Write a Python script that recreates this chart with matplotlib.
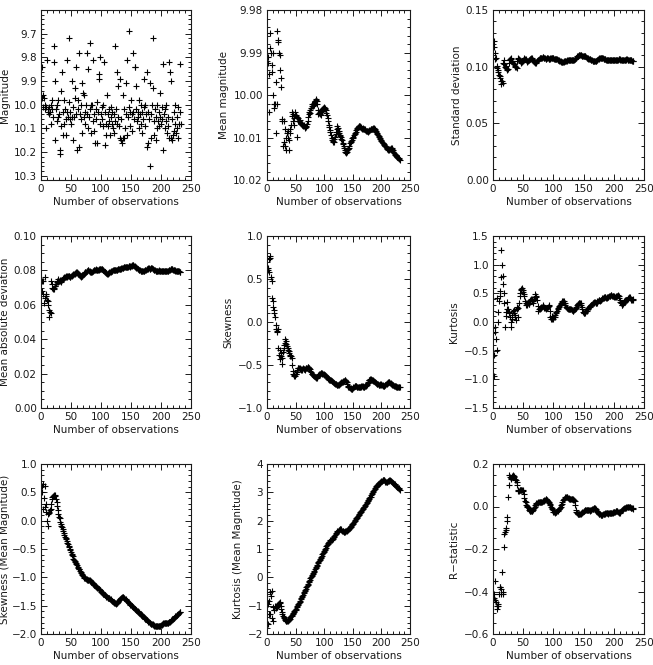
import matplotlib
matplotlib.use("Agg")
import matplotlib.pyplot as plt
import numpy as np
from matplotlib.ticker import MultipleLocator, AutoMinorLocator, FixedLocator

# raw magnitudes, one per observation (x = 1..233)
magnitude = [
    9.84, 9.97, 9.96, 10.01, 9.97, 10.02, 10.00, 10.01, 10.10, 9.81,
    10.03, 10.02, 10.04, 10.01, 10.03, 10.08, 10.00, 10.02, 9.98, 10.05,
    9.75, 9.82, 9.90, 10.15, 10.02, 10.00, 10.07, 10.05, 9.98, 10.04,
    10.21, 10.19, 10.09, 9.94, 9.86, 10.13, 10.03, 10.08, 9.98, 10.02,
    10.06, 10.13, 9.81, 10.03, 10.05, 9.99, 9.72, 10.06, 10.03, 10.08,
    10.05, 9.90, 10.15, 10.01, 10.05, 9.97, 9.93, 10.04, 9.84, 10.19,
    10.02, 9.98, 9.78, 10.18, 10.04, 10.00, 10.06, 9.91, 10.12, 9.95,
    10.05, 9.96, 10.03, 10.08, 10.00, 10.04, 9.78, 9.85, 10.10, 10.05,
    10.02, 9.74, 10.00, 10.12, 10.00, 10.07, 9.81, 10.04, 10.11, 10.16,
    10.02, 10.06, 9.99, 10.16, 10.03, 9.87, 9.89, 10.08, 9.80, 10.04,
    10.01, 10.06, 10.00, 10.09, 9.82, 10.03, 10.17, 10.13, 10.08, 9.96,
    10.04, 10.09, 10.02, 10.07, 10.13, 10.05, 10.01, 10.08, 10.03, 10.10,
    10.04, 10.12, 10.07, 9.75, 10.02, 10.08, 9.86, 10.05, 9.92, 10.09,
    10.14, 9.89, 10.06, 10.15, 10.16, 10.14, 9.96, 10.02, 10.14, 10.10,
    10.04, 9.91, 10.13, 9.81, 10.05, 9.69, 10.01, 10.09, 10.03, 9.98,
    10.04, 10.11, 9.78, 10.03, 10.06, 9.84, 9.84, 10.02, 9.92, 10.07,
    10.03, 10.05, 10.10, 9.98, 10.04, 10.08, 10.00, 10.12, 10.03, 10.06,
    9.89, 10.01, 10.09, 10.00, 10.04, 10.18, 9.86, 10.03, 10.16, 10.06,
    10.26, 9.91, 10.04, 10.14, 10.00, 9.72, 9.93, 10.13, 10.07, 10.02,
    10.15, 10.05, 10.00, 10.10, 10.07, 10.03, 10.09, 10.05, 9.95, 10.08,
    10.01, 10.06, 10.19, 9.83, 10.04, 10.10, 10.02, 10.07, 10.00, 10.12,
    10.05, 10.09, 10.14, 9.82, 9.86, 9.90, 10.14, 10.15, 10.06, 10.13,
    10.03, 10.11, 10.08, 10.00, 10.12, 10.05, 10.10, 10.01, 10.14, 10.08,
    10.03, 9.83, 10.08,
]

# running statistics, x = 1..232
mean_mag = [
    9.9910, 9.9925, 9.9950, 10.0040, 9.9855, 9.9890, 9.9900, 9.9930, 9.9945, 9.9900,
    10.0000, 10.0020, 10.0030, 10.0020, 9.9970, 10.0090, 10.0020, 9.9850, 9.9870, 9.9875,
    9.9900, 9.9905, 9.9940, 9.9960, 9.9980, 10.0060, 10.0057, 10.0120, 10.0110, 10.0060,
    10.0080, 10.0120, 10.0100, 10.0130, 10.0090, 10.0100, 10.0085, 10.0130, 10.0105, 10.0080,
    10.0090, 10.0070, 10.0050, 10.0040, 10.0060, 10.0045, 10.0070, 10.0055, 10.0040, 10.0050,
    10.0048, 10.0052, 10.0098, 10.0055, 10.0060, 10.0062, 10.0058, 10.0064, 10.0066, 10.0068,
    10.0070, 10.0068, 10.0072, 10.0074, 10.0071, 10.0075, 10.0078, 10.0076, 10.0072, 10.0068,
    10.0060, 10.0052, 10.0045, 10.0040, 10.0042, 10.0036, 10.0030, 10.0026, 10.0022, 10.0025,
    10.0020, 10.0018, 10.0024, 10.0015, 10.0012, 10.0010, 10.0014, 10.0020, 10.0035, 10.0045,
    10.0042, 10.0040, 10.0044, 10.0046, 10.0041, 10.0038, 10.0034, 10.0030, 10.0028, 10.0031,
    10.0030, 10.0033, 10.0036, 10.0042, 10.0048, 10.0055, 10.0062, 10.0070, 10.0076, 10.0082,
    10.0088, 10.0095, 10.0100, 10.0106, 10.0108, 10.0111, 10.0110, 10.0104, 10.0098, 10.0092,
    10.0086, 10.0080, 10.0074, 10.0078, 10.0084, 10.0090, 10.0094, 10.0097, 10.0099, 10.0103,
    10.0107, 10.0112, 10.0116, 10.0120, 10.0125, 10.0130, 10.0134, 10.0136, 10.0133, 10.0130,
    10.0128, 10.0127, 10.0125, 10.0120, 10.0114, 10.0111, 10.0108, 10.0105, 10.0102, 10.0100,
    10.0098, 10.0095, 10.0092, 10.0089, 10.0086, 10.0083, 10.0081, 10.0078, 10.0075, 10.0073,
    10.0072, 10.0074, 10.0075, 10.0076, 10.0077, 10.0079, 10.0078, 10.0080, 10.0081, 10.0080,
    10.0081, 10.0083, 10.0084, 10.0085, 10.0084, 10.0086, 10.0085, 10.0084, 10.0083, 10.0082,
    10.0081, 10.0080, 10.0081, 10.0080, 10.0079, 10.0078, 10.0077, 10.0079, 10.0082, 10.0085,
    10.0087, 10.0089, 10.0091, 10.0094, 10.0096, 10.0099, 10.0102, 10.0104, 10.0106, 10.0108,
    10.0111, 10.0113, 10.0114, 10.0116, 10.0118, 10.0119, 10.0121, 10.0122, 10.0124, 10.0126,
    10.0128, 10.0130, 10.0129, 10.0128, 10.0127, 10.0126, 10.0125, 10.0124, 10.0126, 10.0130,
    10.0133, 10.0136, 10.0138, 10.0140, 10.0141, 10.0143, 10.0145, 10.0146, 10.0148, 10.0149,
    10.0151, 10.0153,
]

std_dev = [
    0.123, 0.117, 0.112, 0.107, 0.108, 0.099, 0.101, 0.097, 0.095, 0.093,
    0.092, 0.090, 0.087, 0.085, 0.087, 0.086, 0.103, 0.106, 0.102, 0.100,
    0.101, 0.099, 0.097, 0.098, 0.098, 0.103, 0.106, 0.107, 0.108, 0.107,
    0.105, 0.104, 0.103, 0.102, 0.102, 0.101, 0.100, 0.100, 0.099, 0.105,
    0.107, 0.108, 0.107, 0.106, 0.105, 0.104, 0.103, 0.104, 0.105, 0.106,
    0.107, 0.108, 0.107, 0.107, 0.106, 0.105, 0.104, 0.105, 0.106, 0.106,
    0.107, 0.107, 0.108, 0.108, 0.107, 0.106, 0.105, 0.104, 0.104, 0.103,
    0.103, 0.104, 0.105, 0.106, 0.106, 0.107, 0.108, 0.108, 0.108, 0.108,
    0.108, 0.1085, 0.1085, 0.108, 0.108, 0.108, 0.107, 0.107, 0.1075, 0.108,
    0.108, 0.107, 0.107, 0.107, 0.1075, 0.108, 0.108, 0.108, 0.108, 0.1075,
    0.107, 0.107, 0.107, 0.107, 0.107, 0.107, 0.106, 0.106, 0.106, 0.105,
    0.105, 0.105, 0.104, 0.104, 0.104, 0.104, 0.104, 0.105, 0.105, 0.105,
    0.105, 0.105, 0.106, 0.106, 0.106, 0.106, 0.106, 0.106, 0.106, 0.106,
    0.106, 0.106, 0.106, 0.106, 0.107, 0.107, 0.108, 0.108, 0.109, 0.109,
    0.1095, 0.110, 0.110, 0.110, 0.110, 0.110, 0.1095, 0.1095, 0.1095, 0.109,
    0.109, 0.109, 0.109, 0.1085, 0.108, 0.108, 0.108, 0.107, 0.107, 0.107,
    0.107, 0.106, 0.106, 0.106, 0.105, 0.105, 0.105, 0.105, 0.105, 0.105,
    0.105, 0.106, 0.106, 0.107, 0.107, 0.108, 0.108, 0.108, 0.108, 0.108,
    0.108, 0.108, 0.107, 0.107, 0.107, 0.107, 0.106, 0.106, 0.106, 0.106,
    0.106, 0.106, 0.106, 0.106, 0.106, 0.106, 0.106, 0.106, 0.106, 0.106,
    0.106, 0.106, 0.106, 0.106, 0.106, 0.106, 0.106, 0.107, 0.107, 0.107,
    0.106, 0.106, 0.106, 0.106, 0.106, 0.106, 0.106, 0.106, 0.106, 0.106,
    0.107, 0.107, 0.106, 0.106, 0.106, 0.106, 0.106, 0.106, 0.106, 0.105,
    0.105, 0.105,
]

mean_abs_dev = [
    0.074, 0.068, 0.066, 0.074, 0.061, 0.076, 0.064, 0.066, 0.065, 0.063,
    0.062, 0.060, 0.057, 0.053, 0.056, 0.055, 0.074, 0.072, 0.070, 0.069,
    0.069, 0.070, 0.071, 0.071, 0.072, 0.073, 0.074, 0.075, 0.073, 0.074,
    0.0745, 0.074, 0.073, 0.074, 0.0745, 0.075, 0.0755, 0.076, 0.0755, 0.076,
    0.076, 0.0765, 0.076, 0.0765, 0.077, 0.077, 0.0765, 0.076, 0.076, 0.0765,
    0.077, 0.0775, 0.0775, 0.078, 0.078, 0.0782, 0.078, 0.0785, 0.079, 0.079,
    0.0785, 0.078, 0.078, 0.0775, 0.077, 0.0765, 0.076, 0.0765, 0.077, 0.0775,
    0.078, 0.0785, 0.079, 0.0788, 0.0792, 0.0795, 0.0798, 0.080, 0.080, 0.0798,
    0.0795, 0.079, 0.0788, 0.079, 0.0792, 0.0795, 0.0798, 0.080, 0.0802, 0.0804,
    0.0805, 0.0806, 0.0804, 0.0802, 0.0803, 0.0805, 0.0806, 0.0807, 0.0808, 0.081,
    0.081, 0.0808, 0.0805, 0.080, 0.0795, 0.079, 0.0788, 0.0785, 0.0782, 0.078,
    0.078, 0.0782, 0.0785, 0.0788, 0.079, 0.0792, 0.0795, 0.0797, 0.0798, 0.080,
    0.080, 0.080, 0.0802, 0.0805, 0.0805, 0.0804, 0.0805, 0.0806, 0.0806, 0.0807,
    0.0808, 0.0807, 0.081, 0.0812, 0.0814, 0.0816, 0.0815, 0.0818, 0.082, 0.0822,
    0.0822, 0.082, 0.0818, 0.082, 0.0822, 0.0824, 0.0823, 0.082, 0.0824, 0.0826,
    0.0828, 0.083, 0.0832, 0.083, 0.0828, 0.0825, 0.0822, 0.082, 0.0816, 0.0812,
    0.081, 0.0808, 0.0805, 0.0802, 0.080, 0.0798, 0.0797, 0.0796, 0.0795, 0.0796,
    0.0797, 0.0798, 0.080, 0.0802, 0.0805, 0.0807, 0.0809, 0.081, 0.0812, 0.0812,
    0.0811, 0.081, 0.0812, 0.0813, 0.0812, 0.081, 0.0808, 0.0805, 0.0803, 0.080,
    0.0798, 0.0797, 0.0796, 0.0797, 0.0798, 0.0799, 0.080, 0.0799, 0.0798, 0.0797,
    0.0798, 0.0797, 0.0796, 0.0797, 0.0797, 0.0798, 0.0797, 0.0796, 0.0796, 0.0797,
    0.0798, 0.0799, 0.080, 0.0802, 0.0804, 0.0806, 0.0807, 0.0808, 0.0806, 0.0804,
    0.0803, 0.0802, 0.080, 0.0799, 0.0798, 0.0797, 0.0796, 0.0795, 0.0795, 0.0794,
    0.0793, 0.0793,
]

skewness = [
    0.60, 0.63, 0.58, 0.73, 0.77, 0.75, 0.52, 0.48, 0.28, 0.24,
    0.18, 0.14, 0.10, 0.06, -0.03, -0.08, -0.12, -0.10, -0.08, -0.30,
    -0.38, -0.43, -0.33, -0.36, -0.40, -0.49, -0.42, -0.35, -0.30, -0.27,
    -0.24, -0.20, -0.22, -0.25, -0.28, -0.30, -0.32, -0.34, -0.36, -0.38,
    -0.39, -0.40, -0.42, -0.50, -0.57, -0.61, -0.62, -0.63, -0.63, -0.61,
    -0.60, -0.58, -0.56, -0.54, -0.53, -0.54, -0.54, -0.55, -0.55, -0.56,
    -0.56, -0.55, -0.54, -0.55, -0.55, -0.56, -0.55, -0.54, -0.53, -0.53,
    -0.52, -0.52, -0.53, -0.54, -0.55, -0.57, -0.58, -0.60, -0.61, -0.62,
    -0.62, -0.63, -0.63, -0.64, -0.64, -0.65, -0.65, -0.64, -0.63, -0.62,
    -0.61, -0.60, -0.60, -0.59, -0.59, -0.59, -0.60, -0.61, -0.61, -0.62,
    -0.62, -0.62, -0.63, -0.63, -0.64, -0.65, -0.66, -0.66, -0.67, -0.67,
    -0.68, -0.68, -0.69, -0.69, -0.70, -0.70, -0.71, -0.71, -0.72, -0.72,
    -0.72, -0.73, -0.73, -0.73, -0.73, -0.72, -0.72, -0.71, -0.71, -0.70,
    -0.70, -0.70, -0.69, -0.69, -0.69, -0.68, -0.68, -0.69, -0.70, -0.72,
    -0.74, -0.75, -0.76, -0.76, -0.77, -0.77, -0.78, -0.78, -0.78, -0.77,
    -0.76, -0.75, -0.74, -0.74, -0.74, -0.74, -0.75, -0.75, -0.76, -0.76,
    -0.75, -0.75, -0.75, -0.75, -0.74, -0.74, -0.74, -0.75, -0.75, -0.75,
    -0.74, -0.74, -0.74, -0.73, -0.72, -0.71, -0.70, -0.68, -0.67, -0.66,
    -0.66, -0.67, -0.67, -0.68, -0.68, -0.69, -0.69, -0.70, -0.70, -0.71,
    -0.71, -0.72, -0.72, -0.72, -0.73, -0.73, -0.73, -0.72, -0.72, -0.73,
    -0.73, -0.73, -0.74, -0.74, -0.74, -0.73, -0.73, -0.72, -0.72, -0.71,
    -0.71, -0.70, -0.70, -0.70, -0.71, -0.71, -0.72, -0.72, -0.73, -0.73,
    -0.73, -0.74, -0.74, -0.74, -0.74, -0.75, -0.75, -0.75, -0.75, -0.75,
    -0.75, -0.76,
]

kurtosis = [
    -0.95, -0.58, -0.18, -0.08, -0.30, -0.49, 0.41, 0.00, 0.18, 0.37,
    0.54, 0.45, 0.79, 1.25, 1.00, 0.80, 0.67, 0.50, 0.34, -0.09,
    0.10, 0.18, 0.22, 0.35, 0.23, 0.18, 0.15, 0.09, 0.00, -0.09,
    0.05, 0.12, 0.20, 0.21, 0.15, 0.13, 0.08, 0.03, 0.23, 0.27,
    0.09, 0.25, 0.34, 0.46, 0.50, 0.55, 0.58, 0.60, 0.55, 0.52,
    0.49, 0.45, 0.37, 0.29, 0.33, 0.32, 0.30, 0.33, 0.32, 0.31,
    0.37, 0.38, 0.40, 0.40, 0.36, 0.34, 0.37, 0.40, 0.44, 0.48,
    0.46, 0.43, 0.38, 0.28, 0.20, 0.22, 0.23, 0.24, 0.25, 0.26,
    0.27, 0.28, 0.30, 0.27, 0.25, 0.24, 0.24, 0.23, 0.24, 0.25,
    0.26, 0.28, 0.30, 0.20, 0.09, 0.06, 0.05, 0.11, 0.08, 0.06,
    0.08, 0.09, 0.12, 0.15, 0.17, 0.20, 0.22, 0.24, 0.26, 0.28,
    0.29, 0.31, 0.34, 0.35, 0.36, 0.37, 0.36, 0.34, 0.33, 0.30,
    0.27, 0.25, 0.24, 0.23, 0.23, 0.23, 0.23, 0.22, 0.22, 0.21,
    0.21, 0.20, 0.20, 0.21, 0.22, 0.23, 0.25, 0.27, 0.29, 0.31,
    0.32, 0.33, 0.34, 0.34, 0.33, 0.30, 0.27, 0.22, 0.18, 0.16,
    0.15, 0.15, 0.17, 0.19, 0.20, 0.22, 0.23, 0.24, 0.26, 0.27,
    0.28, 0.29, 0.30, 0.31, 0.33, 0.33, 0.34, 0.35, 0.35, 0.34,
    0.33, 0.34, 0.36, 0.37, 0.38, 0.38, 0.37, 0.38, 0.39, 0.40,
    0.41, 0.42, 0.42, 0.43, 0.44, 0.43, 0.42, 0.42, 0.43, 0.44,
    0.44, 0.45, 0.46, 0.46, 0.47, 0.47, 0.46, 0.45, 0.46, 0.46,
    0.44, 0.43, 0.44, 0.45, 0.46, 0.46, 0.47, 0.45, 0.42, 0.39,
    0.35, 0.33, 0.30, 0.29, 0.32, 0.34, 0.36, 0.37, 0.38, 0.39,
    0.38, 0.39, 0.40, 0.41, 0.43, 0.44, 0.42, 0.40, 0.39, 0.38,
    0.39, 0.40,
]

skew_mean_mag = [
    0.50, 0.62, 0.21, 0.65, 0.40, 0.62, 0.24, 0.29, 0.15, 0.00,
    -0.10, 0.12, 0.15, 0.14, 0.18, 0.21, 0.30, 0.39, 0.41, 0.43,
    0.44, 0.45, 0.45, 0.43, 0.38, 0.33, 0.26, 0.18, 0.11, 0.07,
    0.05, -0.02, -0.06, -0.09, -0.12, -0.15, -0.18, -0.22, -0.25, -0.28,
    -0.30, -0.33, -0.36, -0.39, -0.42, -0.44, -0.47, -0.50, -0.52, -0.55,
    -0.58, -0.60, -0.63, -0.67, -0.69, -0.71, -0.73, -0.75, -0.77, -0.79,
    -0.81, -0.83, -0.85, -0.86, -0.88, -0.90, -0.92, -0.94, -0.96, -0.98,
    -1.00, -1.01, -1.02, -1.02, -1.03, -1.03, -1.04, -1.04, -1.04, -1.05,
    -1.05, -1.06, -1.07, -1.08, -1.09, -1.10, -1.12, -1.13, -1.14, -1.15,
    -1.16, -1.17, -1.17, -1.18, -1.19, -1.20, -1.21, -1.22, -1.23, -1.25,
    -1.26, -1.27, -1.28, -1.29, -1.30, -1.31, -1.32, -1.33, -1.34, -1.35,
    -1.36, -1.36, -1.37, -1.37, -1.38, -1.39, -1.40, -1.41, -1.42, -1.43,
    -1.44, -1.45, -1.46, -1.46, -1.47, -1.46, -1.45, -1.44, -1.42, -1.40,
    -1.39, -1.38, -1.37, -1.36, -1.35, -1.35, -1.35, -1.36, -1.37, -1.38,
    -1.39, -1.40, -1.41, -1.42, -1.44, -1.45, -1.46, -1.47, -1.48, -1.49,
    -1.50, -1.51, -1.52, -1.53, -1.54, -1.55, -1.56, -1.57, -1.58, -1.59,
    -1.60, -1.61, -1.62, -1.63, -1.64, -1.65, -1.66, -1.67, -1.68, -1.69,
    -1.70, -1.71, -1.72, -1.73, -1.74, -1.75, -1.76, -1.77, -1.78, -1.79,
    -1.80, -1.81, -1.82, -1.82, -1.83, -1.83, -1.84, -1.84, -1.85, -1.85,
    -1.85, -1.86, -1.86, -1.86, -1.86, -1.86, -1.86, -1.85, -1.85, -1.84,
    -1.84, -1.83, -1.82, -1.81, -1.80, -1.80, -1.80, -1.80, -1.80, -1.80,
    -1.80, -1.80, -1.79, -1.79, -1.78, -1.77, -1.76, -1.75, -1.74, -1.73,
    -1.72, -1.71, -1.70, -1.69, -1.68, -1.67, -1.66, -1.65, -1.64, -1.63,
    -1.62, -1.61,
]

kurt_mean_mag = [
    -1.66, -0.94, -1.30, -0.82, -0.52, -1.28, -0.67, -0.48, -1.45, -1.54,
    -1.06, -1.16, -1.15, -1.00, -1.08, -1.06, -1.04, -1.02, -0.98, -0.94,
    -0.90, -0.88, -0.92, -1.00, -1.10, -1.24, -1.30, -1.36, -1.40, -1.45,
    -1.48, -1.51, -1.53, -1.54, -1.54, -1.54, -1.52, -1.50, -1.48, -1.46,
    -1.40, -1.38, -1.36, -1.33, -1.30, -1.27, -1.24, -1.20, -1.17, -1.14,
    -1.10, -1.06, -1.02, -0.98, -0.94, -0.90, -0.86, -0.82, -0.78, -0.74,
    -0.70, -0.66, -0.61, -0.56, -0.52, -0.48, -0.44, -0.40, -0.35, -0.31,
    -0.27, -0.22, -0.18, -0.13, -0.08, -0.04, 0.00, 0.04, 0.08, 0.12,
    0.16, 0.20, 0.24, 0.28, 0.32, 0.36, 0.41, 0.45, 0.49, 0.53,
    0.57, 0.61, 0.65, 0.69, 0.73, 0.77, 0.81, 0.85, 0.89, 0.93,
    0.97, 1.01, 1.05, 1.09, 1.13, 1.17, 1.20, 1.23, 1.26, 1.29,
    1.31, 1.32, 1.33, 1.35, 1.37, 1.39, 1.42, 1.45, 1.49, 1.53,
    1.56, 1.59, 1.62, 1.64, 1.66, 1.68, 1.69, 1.70, 1.69, 1.67,
    1.65, 1.63, 1.62, 1.61, 1.61, 1.61, 1.62, 1.63, 1.64, 1.66,
    1.67, 1.69, 1.71, 1.73, 1.75, 1.78, 1.81, 1.84, 1.87, 1.90,
    1.93, 1.96, 1.99, 2.02, 2.05, 2.08, 2.11, 2.14, 2.17, 2.20,
    2.23, 2.26, 2.29, 2.32, 2.35, 2.38, 2.41, 2.44, 2.47, 2.50,
    2.53, 2.57, 2.60, 2.63, 2.67, 2.70, 2.73, 2.76, 2.79, 2.82,
    2.85, 2.89, 2.93, 2.97, 3.00, 3.04, 3.08, 3.12, 3.16, 3.19,
    3.21, 3.23, 3.26, 3.28, 3.30, 3.32, 3.34, 3.36, 3.38, 3.40,
    3.41, 3.42, 3.43, 3.43, 3.42, 3.40, 3.38, 3.37, 3.37, 3.38,
    3.39, 3.40, 3.41, 3.42, 3.42, 3.41, 3.40, 3.38, 3.36, 3.34,
    3.32, 3.30, 3.28, 3.26, 3.24, 3.22, 3.20, 3.18, 3.16, 3.14,
    3.12, 3.10,
]

r_statistic = [
    -0.41, -0.43, -0.44, -0.35, -0.45, -0.47, -0.48, -0.47, -0.46, -0.41,
    -0.38, -0.38, -0.39, -0.41, -0.31, -0.41, -0.40, -0.19, -0.13, -0.12,
    -0.11, -0.10, -0.07, -0.05, 0.045, 0.10, 0.15, 0.137, 0.13, 0.132,
    0.14, 0.145, 0.15, 0.14, 0.145, 0.13, 0.125, 0.125, 0.115, 0.10,
    0.077, 0.075, 0.073, 0.077, 0.076, 0.077, 0.080, 0.078, 0.077, 0.073,
    0.060, 0.040, 0.024, 0.020, 0.008, 0.004, 0.000, -0.004, -0.008, -0.016,
    -0.020, -0.022, -0.023, -0.022, -0.020, -0.018, -0.014, -0.008, -0.002, 0.006,
    0.012, 0.016, 0.017, 0.018, 0.019, 0.020, 0.022, 0.021, 0.020, 0.019,
    0.021, 0.024, 0.026, 0.028, 0.030, 0.032, 0.033, 0.035, 0.031, 0.029,
    0.028, 0.022, 0.016, 0.013, 0.008, 0.000, -0.006, -0.012, -0.018, -0.024,
    -0.027, -0.029, -0.027, -0.026, -0.024, -0.022, -0.020, -0.016, -0.013, -0.010,
    -0.008, 0.000, 0.006, 0.012, 0.020, 0.030, 0.034, 0.036, 0.040, 0.043,
    0.045, 0.045, 0.043, 0.040, 0.039, 0.036, 0.036, 0.036, 0.035, 0.035,
    0.034, 0.033, 0.032, 0.030, 0.024, 0.005, -0.016, -0.024, -0.030, -0.035,
    -0.036, -0.036, -0.035, -0.036, -0.034, -0.032, -0.030, -0.026, -0.024, -0.021,
    -0.019, -0.018, -0.017, -0.016, -0.016, -0.017, -0.016, -0.016, -0.018, -0.019,
    -0.017, -0.016, -0.015, -0.014, -0.013, -0.011, -0.009, -0.008, -0.008, -0.012,
    -0.016, -0.022, -0.027, -0.031, -0.034, -0.035, -0.036, -0.038, -0.040, -0.040,
    -0.039, -0.037, -0.036, -0.034, -0.033, -0.032, -0.030, -0.031, -0.032, -0.033,
    -0.032, -0.030, -0.029, -0.030, -0.032, -0.030, -0.029, -0.029, -0.028, -0.027,
    -0.025, -0.024, -0.021, -0.019, -0.020, -0.022, -0.024, -0.027, -0.029, -0.029,
    -0.024, -0.020, -0.017, -0.016, -0.013, -0.010, -0.008, -0.007, -0.006, -0.005,
    -0.004, -0.002, -0.001, 0.000, 0.000, -0.002, -0.003, -0.005, -0.007, -0.008,
    -0.008, -0.010,
]

# y tick values per panel
mag_ticks = [9.7, 9.8, 9.9, 10.0, 10.1, 10.2, 10.3]
mean_ticks = [9.98, 9.99, 10.00, 10.01, 10.02]

# panel: (series, y label, ylim (bottom, top), major ticks or step, y minor count, tick format)
PANELS = [
    (magnitude, "Magnitude", (10.318, 9.6), mag_ticks, 5, "{:.1f}"),
    (mean_mag, "Mean magnitude", (10.02, 9.98), mean_ticks, 5, "{:.2f}"),
    (std_dev, "Standard deviation", (0.0, 0.15), 0.05, 5, "{:.2f}"),
    (mean_abs_dev, "Mean absolute deviation", (0.0, 0.10), 0.02, 4, "{:.2f}"),
    (skewness, "Skewness", (-1.0, 1.0), 0.5, 5, "{:.1f}"),
    (kurtosis, "Kurtosis", (-1.5, 1.5), 0.5, 5, "{:.1f}"),
    (skew_mean_mag, "Skewness (Mean Magnitude)", (-2.0, 1.0), 0.5, 5, "{:.1f}"),
    (kurt_mean_mag, "Kurtosis (Mean Magnitude)", (-2.0, 4.0), 1.0, 5, "{:.0f}"),
    (r_statistic, "R\u2212statistic", (-0.6, 0.2), 0.2, 4, "{:.1f}"),
]

# axes boxes in pixels: left, right per column; top, bottom per row
COLS = [(41, 191), (267, 410), (493, 644)]
ROWS = [(10, 180), (236, 408), (464, 634)]
W, H = 653, 665

fig = plt.figure(figsize=(W / 100, H / 100), dpi=100)
ink = "#1a1a1a"

for i, (series, label, ylim, major, nminor, fmt) in enumerate(PANELS):
    (x0, x1), (y0, y1) = COLS[i % 3], ROWS[i // 3]
    ax = fig.add_axes([x0 / W, 1 - y1 / H, (x1 - x0) / W, (y1 - y0) / H])
    y = np.array(series)
    x = np.arange(1, len(y) + 1)
    ax.plot(x, y, "+", color="k", ms=5, mew=0.8)

    ax.set_xlim(0, 250)
    ax.set_ylim(*ylim)
    ax.xaxis.set_major_locator(MultipleLocator(50))
    ax.xaxis.set_minor_locator(AutoMinorLocator(5))
    if isinstance(major, list):
        ax.yaxis.set_major_locator(FixedLocator(major))
    else:
        ax.yaxis.set_major_locator(MultipleLocator(major))
    ax.yaxis.set_minor_locator(AutoMinorLocator(nminor))
    ax.yaxis.set_major_formatter(lambda v, p, f=fmt: f.format(v).replace("-", "\u2212"))
    ax.tick_params(which="both", direction="in", top=True, right=True,
                   colors=ink, labelsize=7.5, width=0.7)
    ax.tick_params(which="major", length=4, pad=3)
    ax.tick_params(which="minor", length=2)
    for s in ax.spines.values():
        s.set_linewidth(0.8)
        s.set_color(ink)

    ax.set_xlabel("Number of observations", fontsize=7.5, color=ink, labelpad=2)
    ax.set_ylabel(label, fontsize=7.5, color=ink, labelpad=1 if i == 6 else 3)

fig.savefig("out.png", dpi=100)
